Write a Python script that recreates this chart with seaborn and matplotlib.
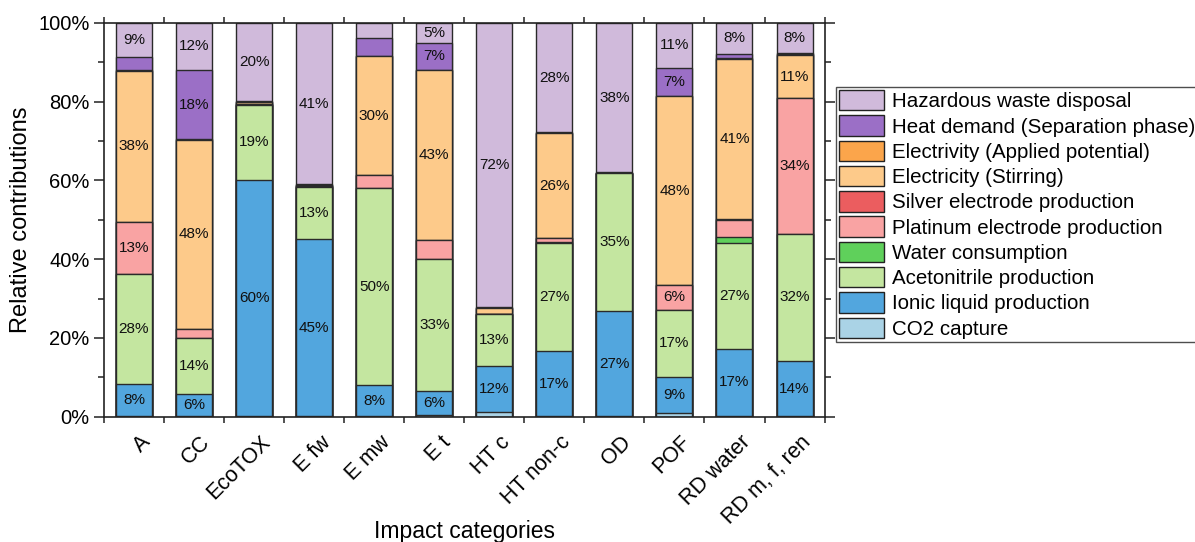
import numpy as np
import pandas as pd
import seaborn as sns
import matplotlib.pyplot as plt
import matplotlib.transforms as mtransforms
from matplotlib.patches import Patch
from matplotlib.ticker import MultipleLocator, PercentFormatter, FixedLocator

sns.set_theme(style="ticks")
plt.rcParams['font.family'] = ['Liberation Sans', 'DejaVu Sans']
plt.rcParams['text.color'] = 'black'
plt.rcParams['axes.labelcolor'] = 'black'
plt.rcParams['xtick.color'] = 'black'
plt.rcParams['ytick.color'] = 'black'

# impact categories (x axis)
categories = ['A', 'CC', 'EcoTOX', 'E fw', 'E mw', 'E t', 'HT c',
              'HT non-c', 'OD', 'POF', 'RD water', 'RD m, f, ren']

# contributions in %, stacked bottom -> top
co2_capture = [0.2, 0.1, 0.1, 0.1, 0.1, 0.5, 1.3, 0.1, 0.1, 0.9, 0.3, 0.1]
ionic_liquid = [8.1, 5.6, 60.1, 45.1, 8.0, 6.1, 11.6, 16.7, 26.8, 9.2, 17.0, 14.1]
acetonitrile = [27.9, 14.3, 18.9, 13.1, 49.9, 33.4, 13.2, 27.4, 34.9, 17.1, 26.8, 32.2]
water = [0.1, 0.1, 0.1, 0.1, 0.1, 0.1, 0.0, 0.1, 0.0, 0.0, 1.5, 0.1]
platinum = [13.1, 2.2, 0.2, 0.2, 3.2, 4.7, 0.1, 1.2, 0.0, 6.2, 4.4, 34.4]
silver = [0.1, 0.1, 0.0, 0.0, 0.0, 0.1, 0.0, 0.0, 0.0, 0.0, 0.1, 0.0]
stirring = [38.3, 47.9, 0.5, 0.2, 30.2, 43.1, 1.5, 26.4, 0.1, 47.9, 40.8, 10.8]
applied = [0.1, 0.1, 0.1, 0.0, 0.1, 0.1, 0.0, 0.0, 0.0, 0.0, 0.1, 0.4]
heat = [3.5, 17.6, 0.1, 0.2, 4.6, 6.8, 0.1, 0.3, 0.1, 7.3, 1.1, 0.3]
hazardous = [8.6, 12.0, 19.9, 41.0, 3.8, 5.1, 72.2, 27.8, 38.0, 11.4, 7.9, 7.6]

layers = [
    ('CO2 capture', co2_capture, '#AAD3E6'),
    ('Ionic liquid production', ionic_liquid, '#52A6DE'),
    ('Acetonitrile production', acetonitrile, '#C4E6A0'),
    ('Water consumption', water, '#5FD05B'),
    ('Platinum electrode production', platinum, '#F9A3A3'),
    ('Silver electrode production', silver, '#EB5D5F'),
    ('Electricity (Stirring)', stirring, '#FDCA8A'),
    ('Electrivity (Applied potential)', applied, '#FBA54B'),
    ('Heat demand (Separation phase)', heat, '#9B6FC6'),
    ('Hazardous waste disposal', hazardous, '#D0BADB'),
]

vals = np.array([l[1] for l in layers]) / 100.0
tops = np.cumsum(vals, axis=0)

fig = plt.figure(figsize=(11.95, 5.42), dpi=100)
ax = fig.add_axes([0.087, 0.231, 0.603, 0.727])

# draw the stack from the top layer down so each layer covers the previous one
for i in range(len(layers) - 1, -1, -1):
    name, _, col = layers[i]
    df = pd.DataFrame({'cat': categories, 'top': tops[i]})
    sns.barplot(data=df, x='cat', y='top', order=categories, color=col,
                width=0.6, edgecolor='#2a2a2a', linewidth=1.0,
                saturation=1, ax=ax)

# percent labels inside segments
for i in range(len(layers)):
    for j in range(len(categories)):
        v = vals[i, j]
        if v >= 0.05:
            ax.text(j, tops[i, j] - v / 2, f"{v * 100:.0f}%", ha='center',
                    va='center', fontsize=11, color='#111111')

ax.set_xlim(-0.5, 11.5)
ax.set_ylim(0, 1)
ax.yaxis.set_major_locator(MultipleLocator(0.2))
ax.yaxis.set_minor_locator(MultipleLocator(0.1))
ax.yaxis.set_major_formatter(PercentFormatter(1.0, decimals=0))
ax.xaxis.set_minor_locator(FixedLocator(np.arange(-0.5, 12, 1)))

for s in ax.spines.values():
    s.set_visible(True)
    s.set_color('#222222')
    s.set_linewidth(1.2)

ax.tick_params(axis='y', which='major', length=7, width=1.1, labelsize=14.5,
               right=True, direction='out', color='#222222')
ax.tick_params(axis='y', which='minor', length=4, width=1.1, right=True,
               direction='out', color='#222222')
ax.tick_params(axis='x', which='major', length=0, labelsize=15.5, pad=6)
ax.tick_params(axis='x', which='minor', length=4, width=1.1, top=True,
               direction='out', color='#222222')
shift = mtransforms.ScaledTranslation(0.13, -0.14, fig.dpi_scale_trans)
for lab in ax.get_xticklabels():
    lab.set_rotation(45)
    lab.set_ha('right')
    lab.set_va('center')
    lab.set_rotation_mode('anchor')
    lab.set_transform(lab.get_transform() + shift)

ax.set_xlabel('Impact categories', fontsize=16.5)
ax.xaxis.set_label_coords(0.5, -0.262)
ax.set_ylabel('Relative contributions', fontsize=17, labelpad=4)

handles = [Patch(facecolor=c, edgecolor='#222222', linewidth=1.0, label=n)
           for n, _, c in layers[::-1]]
leg = fig.legend(handles=handles, loc='upper left',
                 bbox_to_anchor=(0.6996, 0.8395), bbox_transform=fig.transFigure,
                 fontsize=14.8, frameon=True, fancybox=False, borderaxespad=0,
                 handlelength=2.2, handleheight=1.15, labelspacing=0.2,
                 handletextpad=0.35, borderpad=0.15)
leg.get_frame().set_edgecolor('#222222')
leg.get_frame().set_linewidth(1.0)

fig.savefig('out.png', dpi=100)
